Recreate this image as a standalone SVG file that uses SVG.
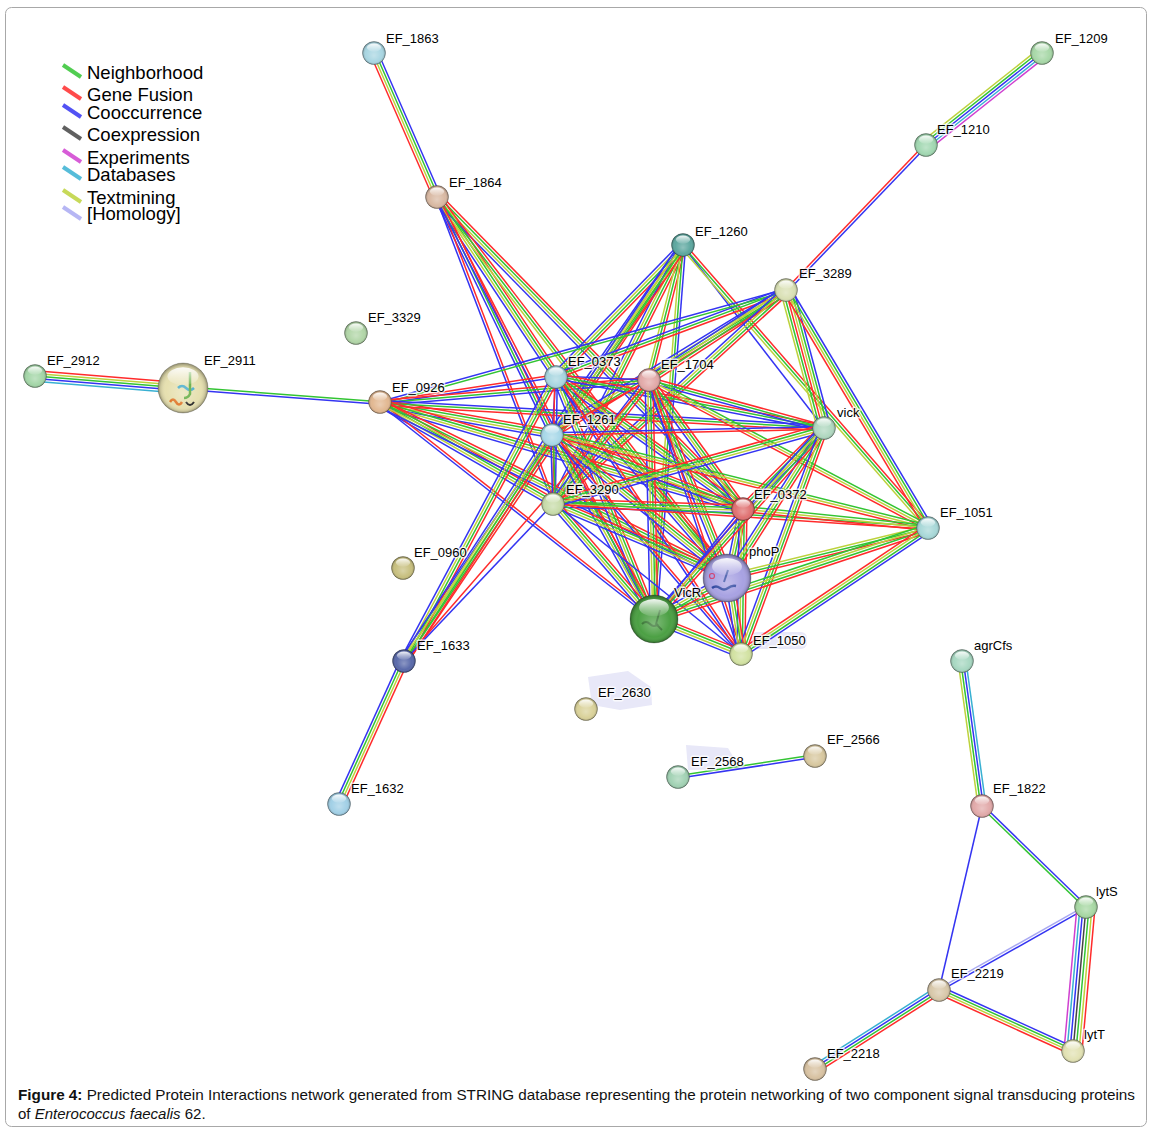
<svg xmlns="http://www.w3.org/2000/svg" xmlns:xlink="http://www.w3.org/1999/xlink" width="1152" height="1133" viewBox="0 0 1152 1133">
<style>
line{stroke-width:1.5;fill:none}
.r{stroke:#ff2b2b}.g{stroke:#33c433}.b{stroke:#3434f2}.y{stroke:#bdd23c}.c{stroke:#38b0d2}.m{stroke:#d040d0}.k{stroke:#444}.h{stroke:#a9a9f2}
.lg{stroke-width:4;stroke-opacity:.85}
.lt{font-family:"Liberation Sans",Arial,sans-serif;font-size:18.5px;fill:#000}
.lbl{font-family:"Liberation Sans",Arial,sans-serif;font-size:13px;fill:#000;paint-order:stroke;stroke:#fff;stroke-width:3px;stroke-opacity:.75;stroke-linejoin:round}
.cap{font-family:"Liberation Sans",Arial,sans-serif;font-size:15px;fill:#111}
.base{stroke:#000;stroke-opacity:.28;stroke-width:.8}
</style>
<defs>
<radialGradient id="shade" cx="0.5" cy="0.5" r="0.5" fx="0.5" fy="0.62">
<stop offset="0" stop-color="#fff" stop-opacity="0.3"/>
<stop offset="0.68" stop-color="#fff" stop-opacity="0"/>
<stop offset="0.9" stop-color="#000" stop-opacity="0.12"/>
<stop offset="1" stop-color="#000" stop-opacity="0.38"/>
</radialGradient>
<linearGradient id="hl" x1="0" y1="0" x2="0" y2="1">
<stop offset="0" stop-color="#fff" stop-opacity="0.92"/>
<stop offset="1" stop-color="#fff" stop-opacity="0.08"/>
</linearGradient>
<g id="sph"><circle r="1" fill="url(#shade)"/><ellipse cy="-0.47" rx="0.62" ry="0.36" fill="url(#hl)"/></g>
<g id="e-b"><line class="b" x2="1"/></g>
<g id="e-r"><line class="r" x2="1"/></g>
<g id="e-gb"><line class="g" x2="1" y1="-1.3" y2="-1.3"/><line class="b" x2="1" y1="1.3" y2="1.3"/></g>
<g id="e-br"><line class="b" x2="1" y1="-1.3" y2="-1.3"/><line class="r" x2="1" y1="1.3" y2="1.3"/></g>
<g id="e-bg"><line class="b" x2="1" y1="-1.3" y2="-1.3"/><line class="g" x2="1" y1="1.3" y2="1.3"/></g>
<g id="e-bh"><line class="b" x2="1" y1="-1.3" y2="-1.3"/><line class="h" x2="1" y1="1.3" y2="1.3"/></g>
<g id="e-rb"><line class="r" x2="1" y1="-1.3" y2="-1.3"/><line class="b" x2="1" y1="1.3" y2="1.3"/></g>
<g id="e-gr"><line class="g" x2="1" y1="-1.3" y2="-1.3"/><line class="r" x2="1" y1="1.3" y2="1.3"/></g>
<g id="e-rgb"><line class="r" x2="1" y1="-2.6" y2="-2.6"/><line class="g" x2="1"/><line class="b" x2="1" y1="2.6" y2="2.6"/></g>
<g id="e-rgy"><line class="r" x2="1" y1="-2.6" y2="-2.6"/><line class="g" x2="1"/><line class="y" x2="1" y1="2.6" y2="2.6"/></g>
<g id="e-bgy"><line class="b" x2="1" y1="-2.6" y2="-2.6"/><line class="g" x2="1"/><line class="y" x2="1" y1="2.6" y2="2.6"/></g>
<g id="e-gyr"><line class="g" x2="1" y1="-2.6" y2="-2.6"/><line class="y" x2="1"/><line class="r" x2="1" y1="2.6" y2="2.6"/></g>
<g id="e-bgr"><line class="b" x2="1" y1="-2.6" y2="-2.6"/><line class="g" x2="1"/><line class="r" x2="1" y1="2.6" y2="2.6"/></g>
<g id="e-rgyb"><line class="r" x2="1" y1="-3.9" y2="-3.9"/><line class="g" x2="1" y1="-1.3" y2="-1.3"/><line class="y" x2="1" y1="1.3" y2="1.3"/><line class="b" x2="1" y1="3.9" y2="3.9"/></g>
<g id="e-bgyr"><line class="b" x2="1" y1="-3.9" y2="-3.9"/><line class="g" x2="1" y1="-1.3" y2="-1.3"/><line class="y" x2="1" y1="1.3" y2="1.3"/><line class="r" x2="1" y1="3.9" y2="3.9"/></g>
<g id="e-rygb"><line class="r" x2="1" y1="-3.9" y2="-3.9"/><line class="y" x2="1" y1="-1.3" y2="-1.3"/><line class="g" x2="1" y1="1.3" y2="1.3"/><line class="b" x2="1" y1="3.9" y2="3.9"/></g>
<g id="e-cbgy"><line class="c" x2="1" y1="-3.9" y2="-3.9"/><line class="b" x2="1" y1="-1.3" y2="-1.3"/><line class="g" x2="1" y1="1.3" y2="1.3"/><line class="y" x2="1" y1="3.9" y2="3.9"/></g>
<g id="e-rgbc"><line class="r" x2="1" y1="-3.9" y2="-3.9"/><line class="g" x2="1" y1="-1.3" y2="-1.3"/><line class="b" x2="1" y1="1.3" y2="1.3"/><line class="c" x2="1" y1="3.9" y2="3.9"/></g>
<g id="e-rgyg"><line class="r" x2="1" y1="-3.9" y2="-3.9"/><line class="g" x2="1" y1="-1.3" y2="-1.3"/><line class="y" x2="1" y1="1.3" y2="1.3"/><line class="g" x2="1" y1="3.9" y2="3.9"/></g>
<g id="e-rygbc"><line class="r" x2="1" y1="-5.2" y2="-5.2"/><line class="y" x2="1" y1="-2.6" y2="-2.6"/><line class="g" x2="1"/><line class="b" x2="1" y1="2.6" y2="2.6"/><line class="c" x2="1" y1="5.2" y2="5.2"/></g>
<g id="e-mcbgy"><line class="m" x2="1" y1="-5.2" y2="-5.2"/><line class="c" x2="1" y1="-2.6" y2="-2.6"/><line class="b" x2="1"/><line class="g" x2="1" y1="2.6" y2="2.6"/><line class="y" x2="1" y1="5.2" y2="5.2"/></g>
<g id="e-bgyrgy"><line class="b" x2="1" y1="-6.5" y2="-6.5"/><line class="g" x2="1" y1="-3.9" y2="-3.9"/><line class="y" x2="1" y1="-1.3" y2="-1.3"/><line class="r" x2="1" y1="1.3" y2="1.3"/><line class="g" x2="1" y1="3.9" y2="3.9"/><line class="y" x2="1" y1="6.5" y2="6.5"/></g>
<g id="e-rygkbcm"><line class="r" x2="1" y1="-9" y2="-9"/><line class="y" x2="1" y1="-6" y2="-6"/><line class="g" x2="1" y1="-3" y2="-3"/><line class="k" x2="1"/><line class="b" x2="1" y1="3" y2="3"/><line class="c" x2="1" y1="6" y2="6"/><line class="m" x2="1" y1="9" y2="9"/></g>
</defs>

<rect x="5.5" y="7.5" width="1141" height="1119" rx="6" fill="#fff" stroke="#a8a8a8" stroke-width="1"/>

<g id="legend">
<line class="lg g" x1="63" y1="65" x2="81" y2="77"/><text class="lt" x="87" y="79">Neighborhood</text>
<line class="lg r" x1="63" y1="87" x2="81" y2="99"/><text class="lt" x="87" y="101">Gene Fusion</text>
<line class="lg b" x1="63" y1="105" x2="81" y2="117"/><text class="lt" x="87" y="119">Cooccurrence</text>
<line class="lg k" x1="63" y1="127" x2="81" y2="139"/><text class="lt" x="87" y="141">Coexpression</text>
<line class="lg m" x1="63" y1="150" x2="81" y2="162"/><text class="lt" x="87" y="164">Experiments</text>
<line class="lg c" x1="63" y1="167" x2="81" y2="179"/><text class="lt" x="87" y="181">Databases</text>
<line class="lg y" x1="63" y1="190" x2="81" y2="202"/><text class="lt" x="87" y="204">Textmining</text>
<line class="lg h" x1="63" y1="207" x2="81" y2="219"/><text class="lt" x="87" y="220">[Homology]</text>
</g>

<g id="label-backgrounds" fill="#e8e8f8">
<polygon points="588,677 628,671 651,687 652,705 620,710 592,705"/>
<polygon points="686,745 728,748 734,758 744,764 742,769 688,770"/>
<rect x="751" y="632" width="56" height="17" rx="6"/>
</g>

<g id="connectors">
<use xlink:href="#e-bgyr" transform="matrix(63 144 -0.916 0.401 374 53)"/>
<use xlink:href="#e-rygbc" transform="matrix(147 12 -0.081 0.997 35 376)"/>
<use xlink:href="#e-gb" transform="matrix(198 15 -0.0755 0.997 182 388)"/>
<use xlink:href="#e-mcbgy" transform="matrix(-116 92 -0.621 -0.783 1042 53)"/>
<use xlink:href="#e-br" transform="matrix(-139 145 -0.722 -0.692 926 145)"/>
<use xlink:href="#e-rygb" transform="matrix(-65 143 -0.910 -0.414 404 661)"/>
<use xlink:href="#e-gb" transform="matrix(137 -21 0.1515 0.988 678 777)"/>
<use xlink:href="#e-cbgy" transform="matrix(20 145 -0.991 0.137 962 661)"/>
<use xlink:href="#e-bg" transform="matrix(104 101 -0.697 0.717 982 806)"/>
<use xlink:href="#e-b" transform="matrix(-43 184 -0.974 -0.2275 982 806)"/>
<use xlink:href="#e-bh" transform="matrix(-147 83 -0.4917 -0.871 1086 907)"/>
<use xlink:href="#e-rygkbcm" transform="matrix(-13 144 -0.996 -0.0899 1086 907)"/>
<use xlink:href="#e-bgyr" transform="matrix(134 61 -0.4144 0.910 939 990)"/>
<use xlink:href="#e-rgbc" transform="matrix(-124 79 -0.537 -0.8435 939 990)"/>

<use xlink:href="#e-rgyb" transform="matrix(119 179 -0.833 0.554 437 197)"/>
<use xlink:href="#e-rgb" transform="matrix(115 237 -0.900 0.4366 437 197)"/>
<use xlink:href="#e-rb" transform="matrix(117 306 -0.934 0.357 437 197)"/>
<use xlink:href="#e-rgyb" transform="matrix(306 312 -0.714 0.700 437 197)"/>
<use xlink:href="#e-rgy" transform="matrix(292 380 -0.793 0.609 437 197)"/>
<use xlink:href="#e-rb" transform="matrix(217 422 -0.889 0.457 437 197)"/>

<use xlink:href="#e-rgyb" transform="matrix(-127 130 -0.7155 -0.699 683 246)"/>
<use xlink:href="#e-rgyb" transform="matrix(-131 188 -0.8206 -0.5718 683 246)"/>
<use xlink:href="#e-rgyb" transform="matrix(-129 257 -0.8936 -0.4485 683 246)"/>
<use xlink:href="#e-rgy" transform="matrix(-34 134 -0.9696 -0.246 683 246)"/>
<use xlink:href="#e-bgy" transform="matrix(-29 373 -0.997 -0.0775 683 246)"/>
<use xlink:href="#e-b" transform="matrix(141 182 -0.7906 0.6125 683 246)"/>
<use xlink:href="#e-rgy" transform="matrix(246 282 -0.7536 0.6574 683 246)"/>
<use xlink:href="#e-rgyb" transform="matrix(-279 415 -0.830 -0.558 683 246)"/>

<use xlink:href="#e-rgb" transform="matrix(-231 86 -0.349 -0.937 787 290)"/>
<use xlink:href="#e-gb" transform="matrix(-407 113 -0.2675 -0.9635 787 290)"/>
<use xlink:href="#e-rgyb" transform="matrix(-235 144 -0.5225 -0.8527 787 290)"/>
<use xlink:href="#e-rgyb" transform="matrix(-138 90 -0.546 -0.837 787 290)"/>
<use xlink:href="#e-rgyb" transform="matrix(-233 213 -0.6747 -0.738 787 290)"/>
<use xlink:href="#e-bgyrgy" transform="matrix(37 138 -0.9657 0.259 787 290)"/>
<use xlink:href="#e-bgyr" transform="matrix(142 238 -0.8589 0.5124 787 290)"/>

<use xlink:href="#e-rb" transform="matrix(176 -27 0.1516 0.988 380 403)"/>
<use xlink:href="#e-rgb" transform="matrix(269 -23 0.0852 0.9963 380 403)"/>
<use xlink:href="#e-rgyb" transform="matrix(172 31 -0.1773 0.984 380 403)"/>
<use xlink:href="#e-bgr" transform="matrix(444 25 -0.0562 0.9984 380 403)"/>
<use xlink:href="#e-rgyb" transform="matrix(363 106 -0.2803 0.960 380 403)"/>
<use xlink:href="#e-rgyb" transform="matrix(174 100 -0.498 0.867 380 403)"/>
<use xlink:href="#e-rb" transform="matrix(274 216 -0.619 0.785 380 403)"/>
<use xlink:href="#e-rgyb" transform="matrix(349 174 -0.446 0.895 380 403)"/>

<use xlink:href="#e-b" transform="matrix(93 4 -0.043 0.999 556 376)"/>
<use xlink:href="#e-b" transform="matrix(-4 58 -0.998 -0.069 556 376)"/>
<use xlink:href="#e-br" transform="matrix(-2 127 -1 -0.0157 556 376)"/>
<use xlink:href="#e-rgyb" transform="matrix(187 133 -0.5795 0.815 556 376)"/>
<use xlink:href="#e-rgyb" transform="matrix(173 201 -0.758 0.652 556 376)"/>
<use xlink:href="#e-rgyb" transform="matrix(98 243 -0.9275 0.374 556 376)"/>
<use xlink:href="#e-rb" transform="matrix(185 278 -0.8326 0.554 556 376)"/>
<use xlink:href="#e-rgb" transform="matrix(268 52 -0.1905 0.9817 556 376)"/>
<use xlink:href="#e-rgyb" transform="matrix(-152 285 -0.8824 -0.4706 556 376)"/>

<use xlink:href="#e-r" transform="matrix(-97 54 -0.4865 -0.874 649 380)"/>
<use xlink:href="#e-rgyb" transform="matrix(-95 123 -0.7915 -0.611 649 380)"/>
<use xlink:href="#e-rgyb" transform="matrix(94 129 -0.808 0.589 649 380)"/>
<use xlink:href="#e-rgb" transform="matrix(175 48 -0.2645 0.964 649 380)"/>
<use xlink:href="#e-rgyb" transform="matrix(80 197 -0.9266 0.376 649 380)"/>
<use xlink:href="#e-rgyb" transform="matrix(5 239 -1 0.0209 649 380)"/>
<use xlink:href="#e-rb" transform="matrix(92 274 -0.948 0.318 649 380)"/>
<use xlink:href="#e-gyr" transform="matrix(280 148 -0.4673 0.884 649 380)"/>
<use xlink:href="#e-r" transform="matrix(-245 281 -0.7538 -0.657 649 380)"/>

<use xlink:href="#e-gb" transform="matrix(2 69 -1 0.029 552 434)"/>
<use xlink:href="#e-rgyb" transform="matrix(191 75 -0.3655 0.931 552 434)"/>
<use xlink:href="#e-rgyb" transform="matrix(177 143 -0.6286 0.778 552 434)"/>
<use xlink:href="#e-rgyb" transform="matrix(102 185 -0.8755 0.4827 552 434)"/>
<use xlink:href="#e-rb" transform="matrix(189 220 -0.7586 0.6517 552 434)"/>
<use xlink:href="#e-br" transform="matrix(272 -6 0.022 0.9997 552 434)"/>
<use xlink:href="#e-gyr" transform="matrix(377 94 -0.242 0.970 552 434)"/>
<use xlink:href="#e-rgyb" transform="matrix(-148 227 -0.8376 -0.546 552 434)"/>

<use xlink:href="#e-rgyb" transform="matrix(189 6 -0.0317 0.9995 554 503)"/>
<use xlink:href="#e-rgyb" transform="matrix(175 74 -0.3895 0.921 554 503)"/>
<use xlink:href="#e-rgyb" transform="matrix(100 116 -0.757 0.6527 554 503)"/>
<use xlink:href="#e-b" transform="matrix(187 151 -0.628 0.778 554 503)"/>
<use xlink:href="#e-gr" transform="matrix(375 25 -0.0665 0.998 554 503)"/>
<use xlink:href="#e-rgyb" transform="matrix(270 -75 0.2677 0.9636 554 503)"/>
<use xlink:href="#e-b" transform="matrix(-150 158 -0.725 -0.688 554 503)"/>

<use xlink:href="#e-rgyb" transform="matrix(81 -81 0.707 0.707 743 509)"/>
<use xlink:href="#e-gyr" transform="matrix(186 19 -0.1016 0.9947 743 509)"/>
<use xlink:href="#e-rgyb" transform="matrix(-14 68 -0.980 -0.2017 743 509)"/>
<use xlink:href="#e-rb" transform="matrix(-89 110 -0.777 -0.629 743 509)"/>
<use xlink:href="#e-rgyb" transform="matrix(-2 145 -1 -0.0138 743 509)"/>

<use xlink:href="#e-rgyb" transform="matrix(-95 149 -0.843 -0.5376 824 428)"/>
<use xlink:href="#e-rgyb" transform="matrix(-170 191 -0.747 -0.665 824 428)"/>
<use xlink:href="#e-rgyb" transform="matrix(-83 226 -0.9385 -0.3447 824 428)"/>

<use xlink:href="#e-rgy" transform="matrix(-200 49 -0.238 -0.971 929 528)"/>
<use xlink:href="#e-rgyg" transform="matrix(-275 91 -0.314 -0.949 929 528)"/>
<use xlink:href="#e-bgyr" transform="matrix(-188 126 -0.557 -0.831 929 528)"/>

<use xlink:href="#e-rgyb" transform="matrix(-75 42 -0.488 -0.872 729 577)"/>
<use xlink:href="#e-rgyb" transform="matrix(12 77 -0.988 0.154 729 577)"/>
<use xlink:href="#e-rgyb" transform="matrix(87 35 -0.373 0.9275 654 619)"/>
</g>

<g id="nodes">
<g id="n-EF_1863"><circle class="base" cx="374" cy="53" r="11.5" fill="#a9d6e2"/><use xlink:href="#sph" transform="translate(374 53) scale(11.5)"/><text class="lbl" x="386" y="43">EF_1863</text></g>
<g id="n-EF_1864"><circle class="base" cx="437" cy="197" r="11.5" fill="#d9b9a3"/><use xlink:href="#sph" transform="translate(437 197) scale(11.5)"/><text class="lbl" x="449" y="187">EF_1864</text></g>
<g id="n-EF_1209"><circle class="base" cx="1042" cy="53" r="11.5" fill="#a8d8a8"/><use xlink:href="#sph" transform="translate(1042 53) scale(11.5)"/><text class="lbl" x="1055" y="43">EF_1209</text></g>
<g id="n-EF_1210"><circle class="base" cx="926" cy="145" r="11.5" fill="#a2d8b2"/><use xlink:href="#sph" transform="translate(926 145) scale(11.5)"/><text class="lbl" x="937" y="134">EF_1210</text></g>
<g id="n-EF_1260"><circle class="base" cx="683" cy="245" r="11.5" fill="#5ea8a0"/><use xlink:href="#sph" transform="translate(683 245) scale(11.5)"/><text class="lbl" x="695" y="236">EF_1260</text></g>
<g id="n-EF_3289"><circle class="base" cx="786" cy="290" r="11.5" fill="#d9e0b4"/><use xlink:href="#sph" transform="translate(786 290) scale(11.5)"/><text class="lbl" x="799" y="278">EF_3289</text></g>
<g id="n-EF_3329"><circle class="base" cx="356" cy="333" r="11.5" fill="#b2d6a8"/><use xlink:href="#sph" transform="translate(356 333) scale(11.5)"/><text class="lbl" x="368" y="322">EF_3329</text></g>
<g id="n-EF_2912"><circle class="base" cx="35" cy="376" r="11.5" fill="#a4d6a8"/><use xlink:href="#sph" transform="translate(35 376) scale(11.5)"/><text class="lbl" x="47" y="365">EF_2912</text></g>
<g id="n-EF_2911"><circle class="base" cx="183" cy="388" r="25" fill="#e6e0b0"/>
<path d="M170 402 q3 -5 6 0 t6 0" stroke="#e07a30" stroke-width="2.5" fill="none"/>
<path d="M178 388 q4 -4 8 0 t8 0" stroke="#40a8c8" stroke-width="2.5" fill="none"/>
<path d="M190 372 l0 22 q-2 4 -6 4" stroke="#5aa838" stroke-width="2.5" fill="none"/>
<path d="M186 402 q4 6 8 0" stroke="#303030" stroke-width="2" fill="none"/>
<use xlink:href="#sph" transform="translate(183 388) scale(25)"/><text class="lbl" x="204" y="365">EF_2911</text></g>
<g id="n-EF_0926"><circle class="base" cx="380" cy="402" r="11.5" fill="#e2b892"/><use xlink:href="#sph" transform="translate(380 402) scale(11.5)"/><text class="lbl" x="392" y="392">EF_0926</text></g>
<g id="n-EF_0373"><circle class="base" cx="556" cy="377" r="11.5" fill="#a8d6e0"/><use xlink:href="#sph" transform="translate(556 377) scale(11.5)"/><text class="lbl" x="568" y="366">EF_0373</text></g>
<g id="n-EF_1704"><circle class="base" cx="649" cy="380" r="11.5" fill="#e2a9a8"/><use xlink:href="#sph" transform="translate(649 380) scale(11.5)"/><text class="lbl" x="661" y="369">EF_1704</text></g>
<g id="n-EF_1261"><circle class="base" cx="552" cy="435" r="11.5" fill="#a8d8e8"/><use xlink:href="#sph" transform="translate(552 435) scale(11.5)"/><text class="lbl" x="563" y="424">EF_1261</text></g>
<g id="n-vick"><circle class="base" cx="824" cy="428" r="11.5" fill="#b0d8c0"/><use xlink:href="#sph" transform="translate(824 428) scale(11.5)"/><text class="lbl" x="837" y="417">vick</text></g>
<g id="n-EF_3290"><circle class="base" cx="553" cy="504" r="11.5" fill="#c8dcaa"/><use xlink:href="#sph" transform="translate(553 504) scale(11.5)"/><text class="lbl" x="566" y="494">EF_3290</text></g>
<g id="n-EF_0372"><circle class="base" cx="743" cy="509" r="11.5" fill="#e07272"/><use xlink:href="#sph" transform="translate(743 509) scale(11.5)"/><text class="lbl" x="754" y="499">EF_0372</text></g>
<g id="n-EF_1051"><circle class="base" cx="928" cy="528" r="11.5" fill="#a8d8d8"/><use xlink:href="#sph" transform="translate(928 528) scale(11.5)"/><text class="lbl" x="940" y="517">EF_1051</text></g>
<g id="n-EF_0960"><circle class="base" cx="403" cy="568" r="11.5" fill="#c8c080"/><use xlink:href="#sph" transform="translate(403 568) scale(11.5)"/><text class="lbl" x="414" y="557">EF_0960</text></g>
<g id="n-phoP"><circle class="base" cx="727" cy="578" r="24" fill="#a8a2e2"/>
<path d="M712 588 q4 -3 8 0 t8 0 t8 -2" stroke="#3048a0" stroke-width="2.5" fill="none"/>
<path d="M724 582 l4 -12" stroke="#3048a0" stroke-width="2" fill="none"/>
<circle cx="712" cy="576" r="2.5" fill="none" stroke="#d04070" stroke-width="1.2"/>
<use xlink:href="#sph" transform="translate(727 578) scale(24)"/><text class="lbl" x="749" y="556">phoP</text></g>
<g id="n-VicR"><circle class="base" cx="654" cy="619" r="24" fill="#4ca044"/>
<path d="M642 624 q4 -4 8 0 t8 0" stroke="#2e6e2a" stroke-width="2" fill="none"/>
<path d="M660 610 l-4 14 l6 6" stroke="#2e6e2a" stroke-width="1.8" fill="none"/>
<use xlink:href="#sph" transform="translate(654 619) scale(24)"/><text class="lbl" x="674" y="597">VicR</text></g>
<g id="n-EF_1050"><circle class="base" cx="741" cy="654" r="11.5" fill="#d2e2a2"/><use xlink:href="#sph" transform="translate(741 654) scale(11.5)"/><text class="lbl" x="753" y="645">EF_1050</text></g>
<g id="n-EF_1633"><circle class="base" cx="404" cy="661" r="11.5" fill="#5a6aaa"/><use xlink:href="#sph" transform="translate(404 661) scale(11.5)"/><text class="lbl" x="417" y="650">EF_1633</text></g>
<g id="n-EF_2630"><circle class="base" cx="586" cy="709" r="11.5" fill="#dad29a"/><use xlink:href="#sph" transform="translate(586 709) scale(11.5)"/><text class="lbl" x="598" y="697">EF_2630</text></g>
<g id="n-EF_1632"><circle class="base" cx="339" cy="804" r="11.5" fill="#a2d0e6"/><use xlink:href="#sph" transform="translate(339 804) scale(11.5)"/><text class="lbl" x="351" y="793">EF_1632</text></g>
<g id="n-agrCfs"><circle class="base" cx="962" cy="661" r="11.5" fill="#a8d8c2"/><use xlink:href="#sph" transform="translate(962 661) scale(11.5)"/><text class="lbl" x="974" y="650">agrCfs</text></g>
<g id="n-EF_2566"><circle class="base" cx="815" cy="756" r="11.5" fill="#d8c8a0"/><use xlink:href="#sph" transform="translate(815 756) scale(11.5)"/><text class="lbl" x="827" y="744">EF_2566</text></g>
<g id="n-EF_2568"><circle class="base" cx="678" cy="777" r="11.5" fill="#a2d2b4"/><use xlink:href="#sph" transform="translate(678 777) scale(11.5)"/><text class="lbl" x="691" y="766">EF_2568</text></g>
<g id="n-EF_1822"><circle class="base" cx="982" cy="806" r="11.5" fill="#e2aaaa"/><use xlink:href="#sph" transform="translate(982 806) scale(11.5)"/><text class="lbl" x="993" y="793">EF_1822</text></g>
<g id="n-lytS"><circle class="base" cx="1086" cy="907" r="11.5" fill="#a8d8a4"/><use xlink:href="#sph" transform="translate(1086 907) scale(11.5)"/><text class="lbl" x="1096" y="896">lytS</text></g>
<g id="n-EF_2219"><circle class="base" cx="939" cy="990" r="11.5" fill="#d8c8aa"/><use xlink:href="#sph" transform="translate(939 990) scale(11.5)"/><text class="lbl" x="951" y="978">EF_2219</text></g>
<g id="n-lytT"><circle class="base" cx="1073" cy="1051" r="11.5" fill="#e2e2b4"/><use xlink:href="#sph" transform="translate(1073 1051) scale(11.5)"/><text class="lbl" x="1084" y="1039">lytT</text></g>
<g id="n-EF_2218"><circle class="base" cx="815" cy="1069" r="11.5" fill="#d8c2a2"/><use xlink:href="#sph" transform="translate(815 1069) scale(11.5)"/><text class="lbl" x="827" y="1058">EF_2218</text></g>
</g>

<g id="caption">
<text class="cap" x="18" y="1100" textLength="1117" lengthAdjust="spacingAndGlyphs"><tspan font-weight="bold">Figure 4:</tspan> Predicted Protein Interactions network generated from STRING database representing the protein networking of two component signal transducing proteins</text>
<text class="cap" x="18" y="1119">of <tspan font-style="italic">Enterococcus faecalis</tspan> 62.</text>
</g>
</svg>
